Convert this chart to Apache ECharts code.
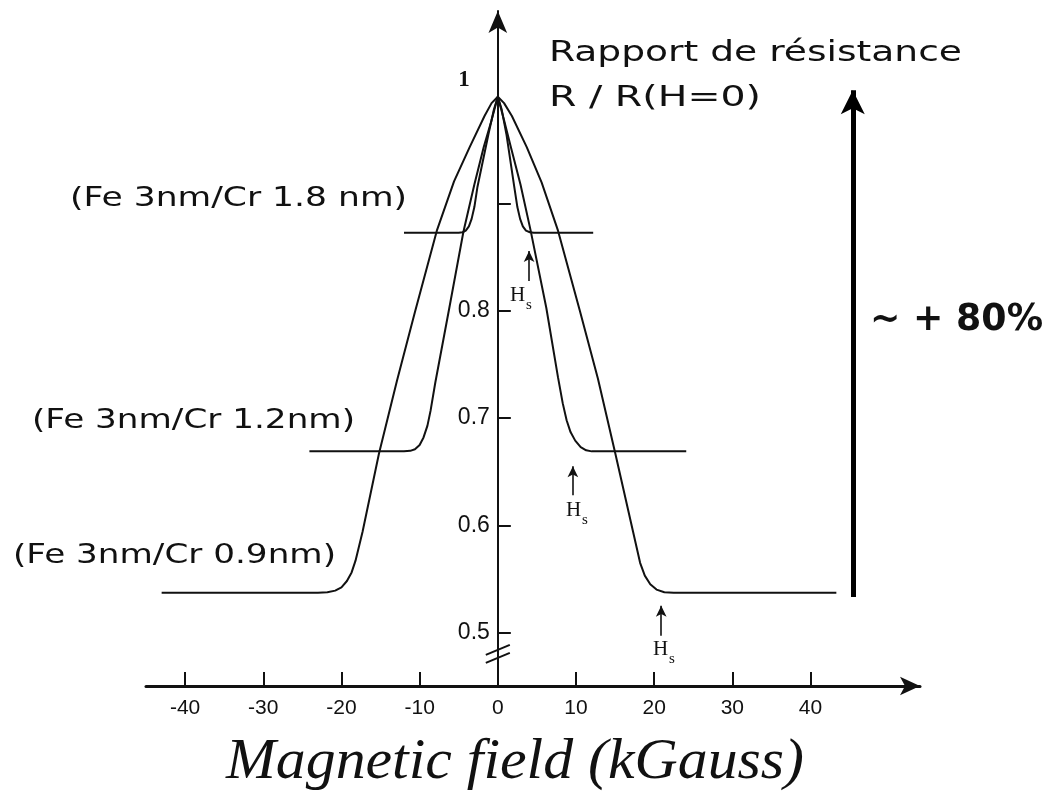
<!DOCTYPE html>
<html><head><meta charset="utf-8">
<script src="https://cdn.jsdelivr.net/npm/echarts@6/dist/echarts.min.js"></script>
<style>html,body{margin:0;padding:0;background:#fff}#c{width:1050px;height:792px}</style>
</head><body><div id="c"></div>
<script>
// ---- data ----
const xTicks = [-40, -30, -20, -10, 0, 10, 20, 30, 40];
const yTickLabels = [0.5, 0.6, 0.7, 0.8];
const yTickMarks = [0.5, 0.6, 0.7, 0.8, 0.9];
const seriesNames = ['(Fe 3nm/Cr 1.8 nm)', '(Fe 3nm/Cr 1.2nm)', '(Fe 3nm/Cr 0.9nm)'];

// [field kGauss, R/R(H=0)]
const curve18 = [[-12.0,0.873],[-8,0.873],[-5.0,0.873],[-4.5,0.8735],[-4.1,0.875],[-3.7,0.879],[-3.35,0.886],[-3.0,0.897],[-2.6,0.916],[-1.2,0.965],[-0.5,0.988],[0,1.0],[0.5,0.988],[1.1,0.965],[2.1,0.916],[2.5,0.897],[2.85,0.886],[3.2,0.879],[3.6,0.875],[4.1,0.8735],[4.6,0.873],[8,0.873],[12.2,0.873]];
const curve12 = [[-24.1,0.669],[-18,0.669],[-12,0.669],[-11.2,0.6695],[-10.6,0.671],[-10.0,0.675],[-9.5,0.682],[-9.0,0.693],[-8.6,0.707],[-8.0,0.733],[-6.2,0.803],[-4.4,0.874],[-3.0,0.918],[-1.8,0.953],[-0.8,0.978],[0,1.0],[0.8,0.978],[1.6,0.955],[2.9,0.918],[4.2,0.875],[6.2,0.803],[7.7,0.738],[8.3,0.714],[8.8,0.698],[9.3,0.687],[9.9,0.679],[10.6,0.673],[11.3,0.670],[12.0,0.669],[18,0.669],[24.1,0.669]];
const curve09 = [[-43.0,0.537],[-30,0.537],[-23,0.537],[-21.8,0.5375],[-20.8,0.539],[-20.0,0.542],[-19.3,0.548],[-18.7,0.556],[-18.2,0.567],[-17.3,0.594],[-15.2,0.667],[-12.9,0.735],[-10.6,0.799],[-7.8,0.875],[-5.6,0.921],[-3.6,0.953],[-1.7,0.982],[-0.8,0.994],[0,1.0],[0.8,0.994],[1.8,0.982],[3.7,0.953],[5.6,0.92],[7.7,0.875],[10.5,0.80],[12.8,0.737],[15.0,0.668],[17.3,0.594],[18.2,0.565],[18.8,0.553],[19.5,0.545],[20.3,0.540],[21.3,0.5375],[22.5,0.537],[30,0.537],[43.3,0.537]];

// saturation field arrows (1.8, 1.2, 0.9 nm)
const hsField = [4.0, 9.6, 20.9];
const hsArrowFrom = [0.828, 0.628, 0.497];
const hsArrowTo = [0.856, 0.655, 0.525];
// overall resistance change arrow
const rangeArrowField = [45.4];
const rangeArrowFrom = [0.533];
const rangeArrowTo = [1.006];

const X_MIN = -45, X_MAX = 54, Y_MIN = 0.45, Y_MAX = 1.08;
const GRID = { left: 146, top: 11, width: 774, height: 675 };
const INK = '#111';

function hsMark(i) {
  return {
    silent: true, symbol: ['none', 'arrow'], symbolSize: [8, 11],
    lineStyle: { color: INK, width: 1.6, type: 'solid' },
    label: { show: false }, animation: false,
    data: [[{ coord: [hsField[i], hsArrowFrom[i]] }, { coord: [hsField[i], hsArrowTo[i]] }]]
  };
}

const chart = echarts.init(document.getElementById('c'), null, { renderer: 'canvas' });
const lineCommon = { type: 'line', showSymbol: false, symbol: 'none', smooth: false, silent: true, animation: false, lineStyle: { color: INK, width: 2 } };
const yOffset = -((0 - X_MIN) / (X_MAX - X_MIN)) * GRID.width;

chart.setOption({
  backgroundColor: '#fff',
  animation: false,
  grid: Object.assign({ containLabel: false }, GRID),
  xAxis: {
    type: 'value', min: X_MIN, max: X_MAX,
    axisLine: { onZero: false, symbol: ['none', 'arrow'], symbolSize: [14, 20], lineStyle: { color: INK, width: 3 } },
    axisTick: { inside: true, length: 14, customValues: xTicks, lineStyle: { color: INK, width: 2 } },
    axisLabel: { customValues: xTicks, margin: 12, fontSize: 21, fontFamily: 'Liberation Sans', color: INK },
    splitLine: { show: false }
  },
  yAxis: {
    type: 'value', min: Y_MIN, max: Y_MAX, offset: yOffset,
    axisLine: { onZero: false, symbol: ['none', 'arrow'], symbolSize: [14, 22], lineStyle: { color: INK, width: 2 } },
    axisTick: { inside: true, length: 13, customValues: yTickMarks, lineStyle: { color: INK, width: 2 } },
    axisLabel: { customValues: yTickLabels, formatter: v => v.toFixed(1), margin: 8, fontSize: 23, fontFamily: 'Liberation Sans', color: INK },
    splitLine: { show: false }
  },
  series: [
    Object.assign({}, lineCommon, { name: seriesNames[0], data: curve18, markLine: hsMark(0) }),
    Object.assign({}, lineCommon, { name: seriesNames[1], data: curve12, markLine: hsMark(1) }),
    Object.assign({}, lineCommon, { name: seriesNames[2], data: curve09, markLine: hsMark(2) }),
    {
      type: 'line', data: [], silent: true, animation: false,
      markLine: {
        silent: true, symbol: ['none', 'arrow'], symbolSize: [18, 24], animation: false,
        lineStyle: { color: '#000', width: 5, type: 'solid' }, label: { show: false },
        data: [[{ coord: [rangeArrowField[0], rangeArrowFrom[0]] }, { coord: [rangeArrowField[0], rangeArrowTo[0]] }]]
      }
    }
  ]
});

// ---- annotations ----
const mctx = document.createElement('canvas').getContext('2d');
function fitted(text, font, x, yMid, targetW, extra) {
  mctx.font = font;
  const w = mctx.measureText(text).width;
  return Object.assign({
    type: 'text', x: x, y: yMid, scaleX: targetW / w, silent: true,
    style: { text: text, font: font, fill: INK, textAlign: 'left', textVerticalAlign: 'middle' }
  }, extra || {});
}
const sansFont = 'normal normal 27px "DejaVu Sans"';
const brk = chart.convertToPixel({ gridIndex: 0 }, [0, 0.479]);
const graphics = [
  fitted('Rapport de résistance', 'normal normal 28px "DejaVu Sans"', 549, 54, 413),
  fitted('R / R(H=0)', 'normal normal 28px "DejaVu Sans"', 549, 99, 212),
  fitted(seriesNames[0], sansFont, 70, 199, 337),
  fitted(seriesNames[1], sansFont, 32, 421, 323),
  fitted(seriesNames[2], sansFont, 13, 556, 323),
  fitted('~ + 80%', 'normal bold 38px "DejaVu Sans"', 870, 320, 173),
  fitted('Magnetic field (kGauss)', 'italic normal 58px "Liberation Serif"', 226, 763, 578),
  { type: 'text', x: 464, y: 80, silent: true, style: { text: '1', font: 'normal bold 23px "Liberation Serif"', fill: INK, textAlign: 'center', textVerticalAlign: 'middle' } },
  { type: 'line', silent: true, shape: { x1: brk[0] - 12, y1: brk[1] - 0, x2: brk[0] + 12, y2: brk[1] - 10 }, style: { stroke: INK, lineWidth: 2 } },
  { type: 'line', silent: true, shape: { x1: brk[0] - 12, y1: brk[1] + 8, x2: brk[0] + 12, y2: brk[1] - 2 }, style: { stroke: INK, lineWidth: 2 } }
];
// H_s labels
const hsLabelPos = [[510, 295], [566, 510], [653, 649]];
hsLabelPos.forEach(p => {
  graphics.push({ type: 'text', x: p[0], y: p[1], silent: true, style: { text: 'H', font: 'normal normal 21px "Liberation Serif"', fill: INK, textAlign: 'left', textVerticalAlign: 'middle' } });
  graphics.push({ type: 'text', x: p[0] + 16, y: p[1] + 10, silent: true, style: { text: 's', font: 'normal normal 15px "Liberation Serif"', fill: INK, textAlign: 'left', textVerticalAlign: 'middle' } });
});
chart.setOption({ graphic: graphics });
</script>
</body></html>
